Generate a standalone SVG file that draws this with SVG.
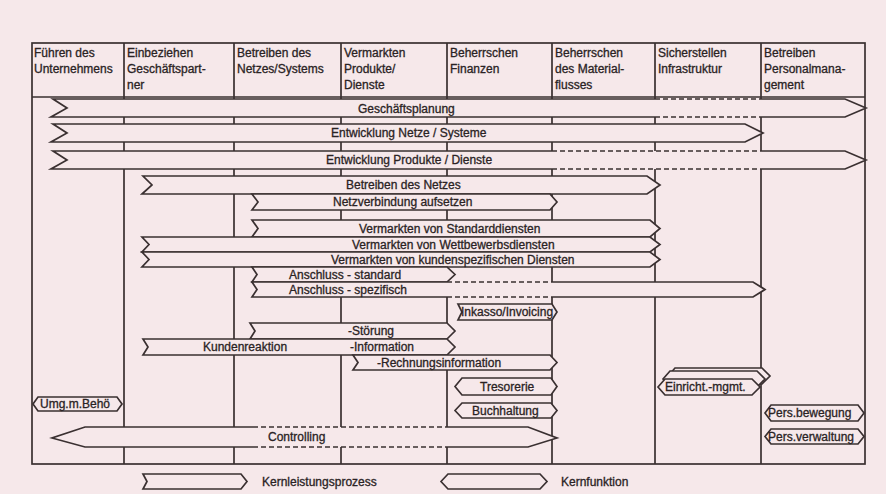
<svg xmlns="http://www.w3.org/2000/svg" width="886" height="494" viewBox="0 0 886 494">
<style>
.bg{fill:#f6e8ea}
.ln{fill:none;stroke:#3a3031;stroke-width:1.7}
.f{fill:#f6e8ea;stroke:none}
.b{fill:#f6e8ea;stroke:#3a3031;stroke-width:1.7;stroke-linejoin:miter}
.s{fill:none;stroke:#3a3031;stroke-width:1.7;stroke-linejoin:miter}
.d{fill:none;stroke:#3a3031;stroke-width:1.7;stroke-dasharray:5 3}
text{font-family:"Liberation Sans",Arial,sans-serif;font-size:12px;fill:#2a2324;stroke:#2a2324;stroke-width:0.3}
</style>
<rect class="bg" x="0" y="0" width="886" height="494"/>
<g id="grid">
<rect class="ln" x="32" y="43" width="833" height="421"/>
<path class="ln" d="M32,97 H865 M124,43 V464 M234,43 V464 M341,43 V464 M447,43 V464 M552,43 V464 M655,43 V464 M761,43 V464"/>
</g>
<g id="headers">
<text x="34" y="57">Führen des</text><text x="34" y="73">Unternehmens</text>
<text x="127" y="57">Einbeziehen</text><text x="127" y="73">Geschäftspart-</text><text x="127" y="89">ner</text>
<text x="237" y="57">Betreiben des</text><text x="237" y="73">Netzes/Systems</text>
<text x="344" y="57">Vermarkten</text><text x="344" y="73">Produkte/</text><text x="344" y="89">Dienste</text>
<text x="450" y="57">Beherrschen</text><text x="450" y="73">Finanzen</text>
<text x="555" y="57">Beherrschen</text><text x="555" y="73">des Material-</text><text x="555" y="89">flusses</text>
<text x="658" y="57">Sicherstellen</text><text x="658" y="73">Infrastruktur</text>
<text x="764" y="57">Betreiben</text><text x="764" y="73">Personalmana-</text><text x="764" y="89">gement</text>
</g>
<g id="n-geschaeftsplanung">
<path class="f" d="M51,99 H845 L866,108 L845,117 H51 L67,108 Z"/>
<path class="s" d="M655,99 H53 L67,108 L51,117 H655 M760,99 H845 L866,108 L845,117 H760"/>
<path class="d" d="M655,99 H760 M655,117 H760"/>
<text x="358" y="113">Geschäftsplanung</text>
</g>
<g id="n-entwicklung-netze">
<path class="b" d="M53,124 H745 L763,133 L745,142 H51 L67,133 Z"/>
<text x="331" y="137">Entwicklung Netze / Systeme</text>
</g>
<g id="n-entwicklung-produkte">
<path class="f" d="M51,151 H845 L866,160 L845,169 H51 L67,160 Z"/>
<path class="s" d="M552,151 H53 L67,160 L51,169 H552 M760,151 H845 L866,160 L845,169 H760"/>
<path class="d" d="M552,151 H760 M552,169 H760"/>
<text x="326" y="164">Entwicklung Produkte / Dienste</text>
</g>
<g id="n-betreiben-netz">
<path class="b" d="M143,176 H647 L660,185 L647,194 H142 L152,185 Z"/>
<text x="346" y="189">Betreiben des Netzes</text>
</g>
<g id="n-netzverbindung">
<path class="b" d="M252,194 H550 L557,202 L550,210 H252 L258,202 Z"/>
<text x="333" y="206">Netzverbindung aufsetzen</text>
</g>
<g id="n-standarddienste">
<path class="b" d="M252,220 H650 L660,228.5 L650,237 H252 L258,228.5 Z"/>
<text x="359" y="232.5">Vermarkten von Standarddiensten</text>
</g>
<g id="n-wettbewerbsdienste">
<path class="b" d="M142,237 H650 L660,244.5 L650,252 H142 L149,244.5 Z"/>
<text x="352" y="248.5">Vermarkten von Wettbewerbsdiensten</text>
</g>
<g id="n-kundenspezifisch">
<path class="b" d="M142,252 H650 L660,259.5 L650,267 H142 L149,259.5 Z"/>
<text x="331" y="263.5">Vermarkten von kundenspezifischen Diensten</text>
</g>
<g id="n-anschluss-standard">
<path class="b" d="M252,267 H447 L455,274.5 L447,282 H252 L257,274.5 Z"/>
<text x="289" y="278.5">Anschluss - standard</text>
</g>
<g id="n-anschluss-spezifisch">
<path class="f" d="M252,282 H753 L765,289.5 L753,297 H252 L257,289.5 Z"/>
<path class="s" d="M447,282 H252 L257,289.5 L252,297 H447 M552,282 H753 L765,289.5 L753,297 H552"/>
<path class="d" d="M447,282 H552 M447,297 H552"/>
<text x="289" y="293.5">Anschluss - spezifisch</text>
</g>
<g id="n-inkasso">
<path class="b" d="M458,304 H552 L557,312 L552,320 H458 L462,312 Z"/>
<text x="461" y="316">Inkasso/Invoicing</text>
</g>
<g id="n-stoerung">
<path class="b" d="M250,323 H447 L455,331 L447,339 H250 L255,331 Z"/>
<text x="348" y="335">-Störung</text>
</g>
<g id="n-kundenreaktion">
<path class="b" d="M143,339 H447 L455,347 L447,355 H143 L148,347 Z"/>
<text x="203" y="351">Kundenreaktion</text>
<text x="350" y="351">-Information</text>
</g>
<g id="n-rechnungsinformation">
<path class="b" d="M353,355 H550 L557,362.5 L550,370 H353 L358,362.5 Z"/>
<text x="377" y="366.5">-Rechnungsinformation</text>
</g>
<g id="n-tresorerie">
<path class="b" d="M455,386.5 L462,378 H551 L557,386.5 L551,395 H462 Z"/>
<text x="480" y="390.5">Tresorerie</text>
</g>
<g id="n-buchhaltung">
<path class="b" d="M455,410.5 L462,403 H551 L557,410.5 L551,418 H462 Z"/>
<text x="472" y="414.5">Buchhaltung</text>
</g>
<g id="n-umg-behoerden">
<path class="b" d="M33,404 L38,397 H117 L122,404 L117,411 H38 Z"/>
<text x="40" y="408">Umg.m.Behö</text>
</g>
<g id="n-einricht-mgmt">
<path class="b" d="M668,376 L675,368 H762 L770,376 L762,384 H675 Z"/>
<path class="b" d="M663,379 L670,371 H757 L765,379 L757,387 H670 Z"/>
<path class="b" d="M658,387 L665,379 H752 L760,387 L752,395 H665 Z"/>
<text x="665" y="391">Einricht.-mgmt.</text>
</g>
<g id="n-pers-bewegung">
<path class="b" d="M765,413 L771,405 H858 L864,413 L858,421 H771 Z"/>
<text x="768" y="417">Pers.bewegung</text>
</g>
<g id="n-pers-verwaltung">
<path class="b" d="M765,436.5 L771,429 H858 L864,436.5 L858,444 H771 Z"/>
<text x="768" y="440.5">Pers.verwaltung</text>
</g>
<g id="n-controlling">
<path class="f" d="M52,438 L85,427 H528 L557,438 L528,447 H85 Z"/>
<path class="s" d="M253,427 H85 L52,438 L85,447 H253 M447,427 H528 L557,438 L528,447 H447"/>
<path class="d" d="M253,427 H447 M253,447 H447"/>
<text x="268" y="441">Controlling</text>
</g>
<g id="legend">
<path class="b" d="M143,474 H241 L247,481.5 L241,489 H143 L147,481.5 Z"/>
<text x="262" y="485.5">Kernleistungsprozess</text>
<path class="b" d="M441,481.5 L448,474 H540 L547,481.5 L540,489 H448 Z"/>
<text x="561" y="485.5">Kernfunktion</text>
</g>
<g id="connectors"></g>
</svg>
